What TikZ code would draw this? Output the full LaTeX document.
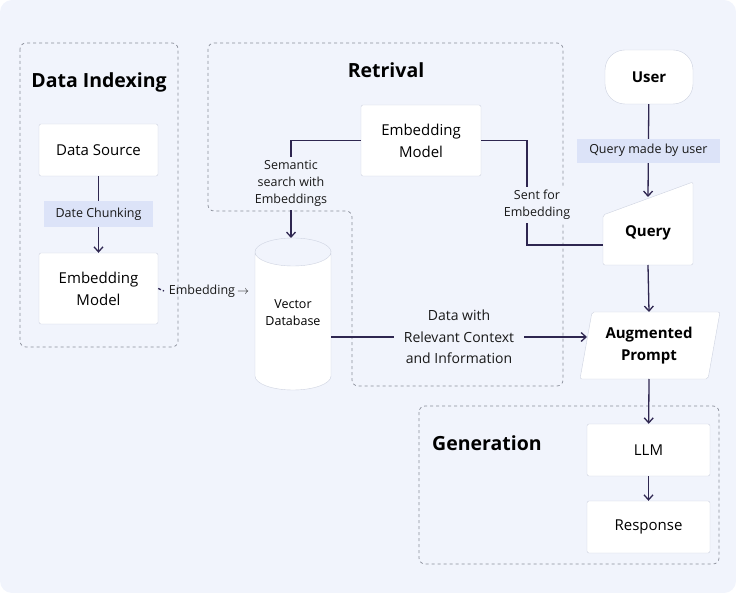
\documentclass[tikz,border=0pt]{standalone}
\usepackage{fontspec}
\setmainfont{Open Sans}
\usetikzlibrary{arrows.meta}
\definecolor{bg}{HTML}{F1F4FC}
\definecolor{ln}{HTML}{2E2650}
\definecolor{bd}{HTML}{CDD2E0}
\definecolor{hl}{HTML}{DCE3F8}
\definecolor{dsh}{HTML}{8A8E9A}
\begin{document}
\begin{tikzpicture}[x=1pt,y=-1pt,
 box/.style={draw=bd,fill=white,rounded corners=2pt,font=\fontsize{15}{22}\selectfont,align=center},
 lbl/.style={font=\fontsize{12.5}{17}\selectfont,align=center,text=black!90},
 hlb/.style={lbl,fill=hl},
 con/.style={draw=ln,line width=1.3pt},
 arr/.style={con,-{Straight Barb[length=5pt,width=9pt]}},
 grp/.style={draw=dsh,dashed,rounded corners=6pt,line width=0.7pt},
 ttl/.style={font=\bfseries\fontsize{19.5}{24}\selectfont}]
\useasboundingbox (0,0) rectangle (736,593);
\fill[bg,rounded corners=12pt] (0,0) rectangle (736,593);
% groups
\draw[grp] (20,43) rectangle (178,347);
\draw[grp] (208,43) -- (563,43) -- (563,386) -- (352,386) -- (352,211) -- (208,211) -- cycle;
\draw[grp] (419,406) rectangle (719,564);
\node[ttl] at (99,82) {Data Indexing};
\node[ttl] at (386,70) {Retrival};
\node[ttl] at (487,443) {Generation};
% nodes
\node[box,minimum width=119pt,minimum height=52pt] (ds) at (98.5,150) {Data Source};
\node[box,minimum width=119pt,minimum height=71pt] (em1) at (98.5,288.5) {Embedding\\Model};
\node[box,minimum width=120pt,minimum height=71pt] (em2) at (421,140.5) {Embedding\\Model};
\node[box,rounded corners=20pt,minimum width=88pt,minimum height=54pt,font=\bfseries\fontsize{15}{22}\selectfont] (user) at (649,77) {User};
\path[draw=bd,fill=white,rounded corners=2pt] (603,215) -- (693,182) -- (693,265) -- (603,265) -- cycle;
\node[font=\bfseries\fontsize{15}{20}\selectfont] (q) at (648,233) {Query};
\coordinate (qt) at (648,197); \coordinate (qb) at (648,265); \coordinate (ql) at (603,245);
\path[draw=bd,fill=white,rounded corners=2pt] (592,312) -- (720,312) -- (708,379) -- (580,379) -- cycle;
\node[font=\bfseries\fontsize{15}{22}\selectfont,align=center] (ap) at (649,346) {Augmented\\Prompt};
\coordinate (apt) at (649,312); \coordinate (apb) at (649,379); \coordinate (apl) at (587,337);
\node[box,minimum width=123pt,minimum height=52pt] (llm) at (648.5,450) {LLM};
\node[box,minimum width=123pt,minimum height=52pt] (resp) at (648.5,527) {Response};
% cylinder
\path[draw=bd,fill=white] (255,252) -- (255,376) arc[x radius=38,y radius=14,start angle=180,end angle=0] -- (331,252) arc[x radius=38,y radius=14,start angle=0,end angle=180];
\draw[bd] (255,252) arc[x radius=38,y radius=14,start angle=180,end angle=360];
\node[font=\fontsize{12.5}{17}\selectfont,align=center] (vdb) at (293,313) {Vector\\Database};
\coordinate (vt) at (291,238); \coordinate (vr) at (331,337); \coordinate (vl) at (255,291);
% connectors
\draw[arr] (ds) -- node[hlb,minimum width=109pt,minimum height=26pt] {Date Chunking} (em1);
\draw[con,dashed,dash pattern=on 3pt off 2pt] (em1.east) -- (164,291);
\node[lbl] at (209,291) {Embedding\,$\rightarrow$};
\draw[arr] (em2.west) -| node[lbl,fill=bg,pos=0.72] {Semantic\\search with\\Embeddings} (vt);
\draw[con] (em2.east) -| (527,245) -- (ql);
\node[lbl,fill=bg] at (537,205) {Sent for\\Embedding};
\draw[arr] (vr) -- node[lbl,fill=bg,inner xsep=10pt,font=\fontsize{14}{21.5}\selectfont,pos=0.5] {Data with\\Relevant Context\\and Information} (apl);
\draw[arr] (user) -- node[hlb,minimum width=143pt,minimum height=24pt] {Query made by user} (qt);
\draw[arr] (qb) -- (apt);
\draw[arr] (apb) -- (llm);
\draw[arr] (llm) -- (resp);
\end{tikzpicture}
\end{document}
